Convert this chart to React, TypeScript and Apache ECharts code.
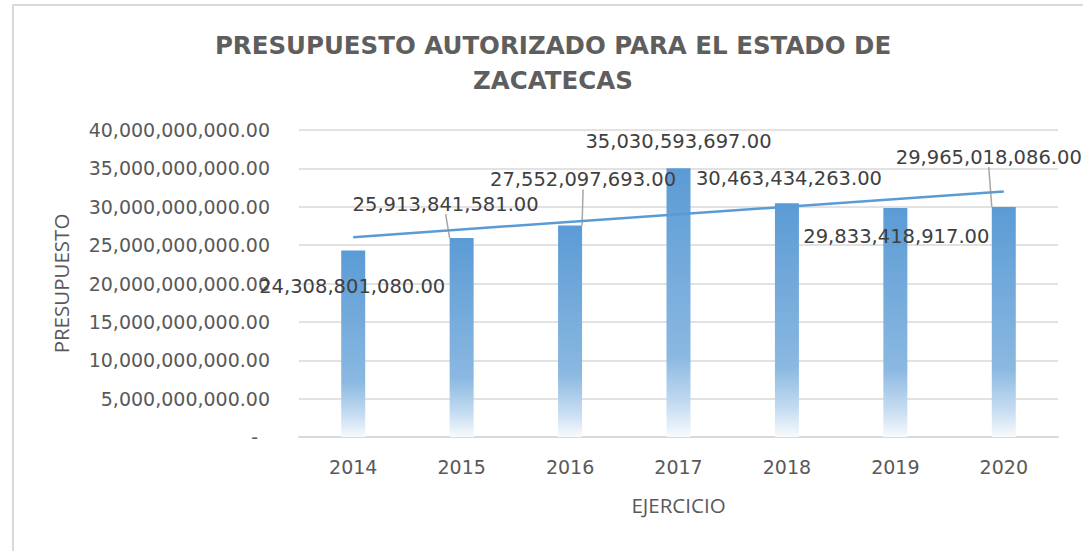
import React, { useEffect, useRef } from "react";
import * as echarts from "echarts";

const years = ["2014", "2015", "2016", "2017", "2018", "2019", "2020"];
const budget = [
  24308801080, 25913841581, 27552097693, 35030593697, 30463434263, 29833418917, 29965018086,
];
// linear trend line end points (2014 and 2020)
const trendStart = 26.04e9;
const trendEnd = 32.0e9;
const yMin = 0;
const yMax = 40e9;
const yStep = 5e9;

// label placement (offsets in px from the default "top" position) and leader lines
const labelShift: number[][] = [
  [-1, 51],
  [-16, -19],
  [13, -31],
  [0, -12],
  [2, -10],
  [1, 43],
  [-15, -35],
];
const leader = [false, true, true, false, false, false, true];

const fmt = (v: number) =>
  v.toLocaleString("en-US", { minimumFractionDigits: 2, maximumFractionDigits: 2 });

export default function App() {
  const ref = useRef<HTMLDivElement>(null);
  useEffect(() => {
    if (!ref.current) return;
    const chart = echarts.init(ref.current, undefined, { renderer: "svg" });
    const trendData = years.map((_, i) =>
      i === 0 ? trendStart : i === years.length - 1 ? trendEnd : null
    );
    chart.setOption({
      animation: false,
      backgroundColor: "#ffffff",
      graphic: [
        {
          type: "rect",
          shape: { x: 13, y: 5, width: 1200, height: 700 },
          style: { fill: "none", stroke: "#D9D9D9", lineWidth: 2 },
          silent: true,
        },
      ],
      title: {
        text: "PRESUPUESTO AUTORIZADO PARA EL ESTADO DE\nZACATECAS",
        left: 548,
        textAlign: "center",
        top: 23,
        textStyle: {
          fontFamily: "DejaVu Sans",
          fontWeight: "bold",
          fontSize: 24.5,
          lineHeight: 35,
          color: "#5E5E5E",
        },
      },
      grid: { left: 299, right: 25, top: 130, bottom: 114 },
      xAxis: {
        type: "category",
        data: years,
        name: "EJERCICIO",
        nameLocation: "middle",
        nameGap: 57,
        nameTextStyle: { fontFamily: "Open Sans", fontSize: 20.5, color: "#595959" },
        axisLine: { lineStyle: { color: "#D9D9D9", width: 2 } },
        axisTick: { show: false },
        axisLabel: {
          margin: 20,
          fontFamily: "DejaVu Sans",
          fontSize: 19,
          color: "#595959",
        },
      },
      yAxis: {
        type: "value",
        min: yMin,
        max: yMax,
        interval: yStep,
        name: "PRESUPUESTO",
        nameLocation: "middle",
        nameGap: 228,
        nameTextStyle: { fontFamily: "Open Sans", fontSize: 20.5, color: "#595959" },
        axisLine: { show: false },
        axisTick: { show: false },
        splitLine: { lineStyle: { color: "#D9D9D9", width: 1.5 } },
        axisLabel: {
          margin: 29,
          fontFamily: "DejaVu Sans",
          fontSize: 19,
          color: "#595959",
          formatter: (v: number) => (v === 0 ? "{z|-}" : fmt(v)),
          rich: {
            z: {
              fontFamily: "DejaVu Sans",
              fontSize: 19,
              color: "#595959",
              padding: [0, 12, 0, 0],
            },
          },
        },
      },
      series: [
        {
          type: "bar",
          barWidth: 24,
          data: budget.map((v, i) => ({ value: v, labelLine: { show: leader[i] } })),
          itemStyle: {
            color: new echarts.graphic.LinearGradient(0, 0, 0, 1, [
              { offset: 0, color: "#5B9BD5" },
              { offset: 0.7, color: "#8AB8E1" },
              { offset: 0.88, color: "#C5DCF1" },
              { offset: 1, color: "#F7FAFD" },
            ]),
          },
          label: {
            show: true,
            position: "top",
            distance: 5,
            fontFamily: "DejaVu Sans",
            fontSize: 19.5,
            color: "#404040",
            formatter: (p: any) => fmt(p.value),
          },
          labelLine: { show: false, lineStyle: { color: "#A6A6A6", width: 1.5 } },
          labelLayout: (p: any) => ({
            dx: labelShift[p.dataIndex][0],
            dy: labelShift[p.dataIndex][1],
          }),
          z: 2,
        },
        {
          type: "line",
          data: trendData,
          connectNulls: true,
          showSymbol: false,
          symbol: "none",
          lineStyle: { color: "#5B9BD5", width: 2.5 },
          z: 3,
          silent: true,
        },
      ],
    });
    return () => chart.dispose();
  }, []);
  return (
    <div
      ref={ref}
      style={{ position: "fixed", left: 0, top: 0, width: 1083, height: 551 }}
    />
  );
}
